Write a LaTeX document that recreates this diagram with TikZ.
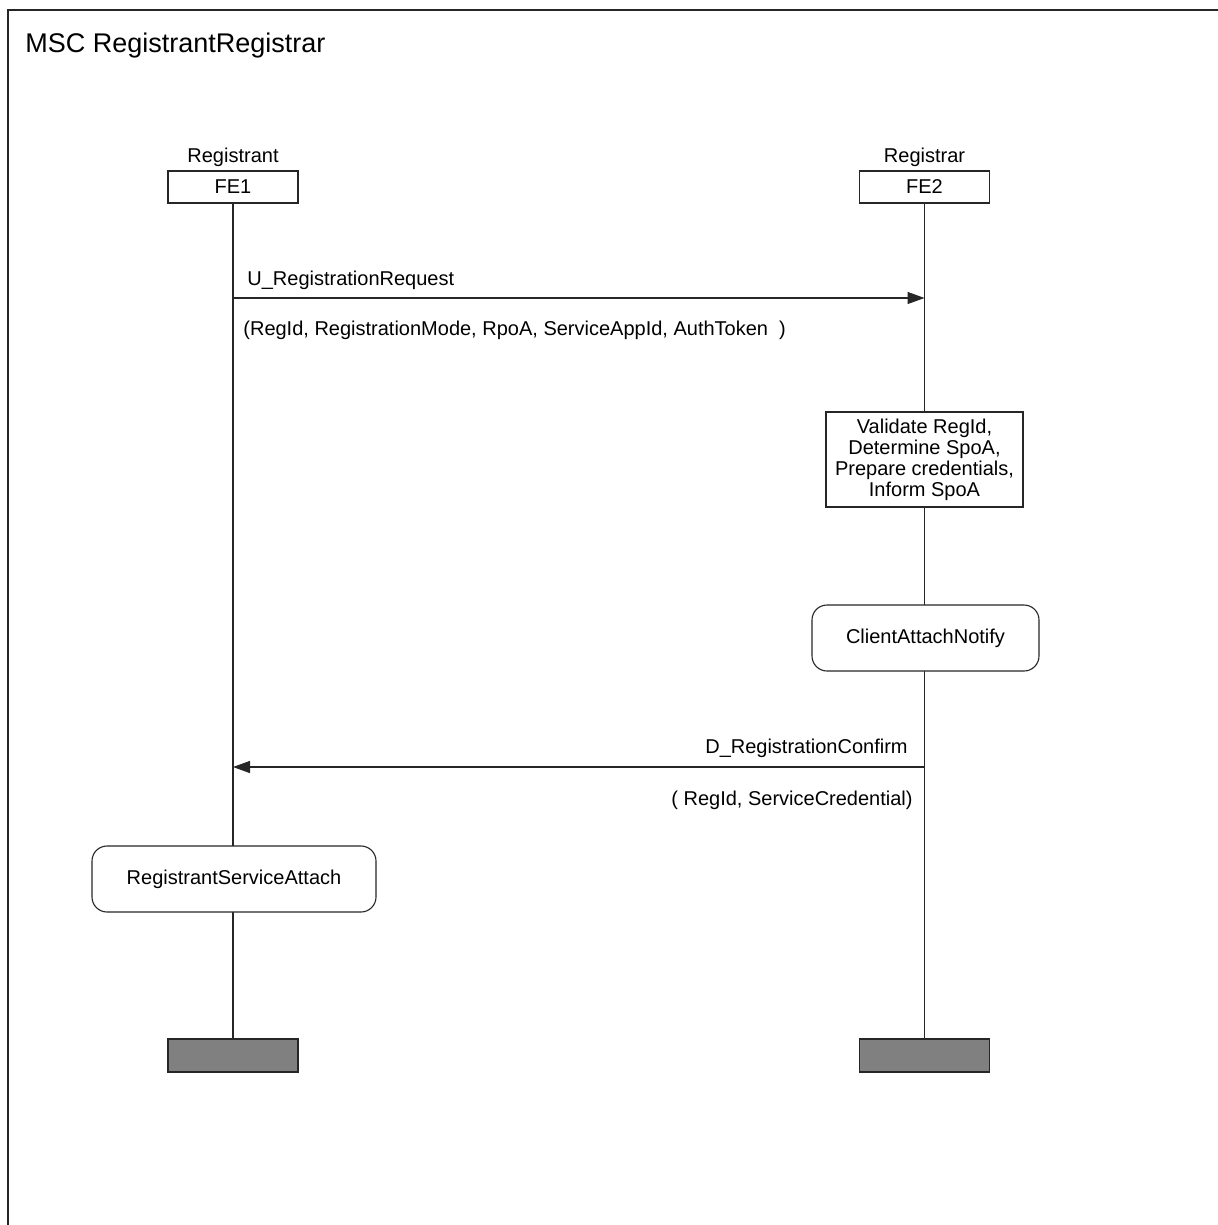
\documentclass[tikz,border=0pt]{standalone}
\usepackage{fontspec}
\setmainfont{Liberation Sans}
\usetikzlibrary{arrows.meta,backgrounds}
\begin{document}
\begin{tikzpicture}[x=0.5pt,y=-0.5pt,
  every node/.style={font=\fontsize{10}{10.5}\selectfont, inner sep=0pt},
  line/.style={draw=black!85, line width=0.55pt},
  head/.style={line, fill=white, minimum width=65pt, minimum height=16pt},
  endbox/.style={line, fill=black!50, minimum width=65pt, minimum height=16.5pt},
  action/.style={line, fill=white, minimum width=98.5pt, minimum height=47.5pt, align=center},
  refbox/.style={line, fill=white, rounded corners=7.5pt, minimum height=33pt},
  msg/.style={line, -{Triangle[length=8.5pt,width=6pt]}}]
  \useasboundingbox (0,0) rectangle (1218,1225);

  % diagram frame (open to the right and bottom)
  \draw[line, line width=0.8pt] (8,1225) -- (8,10) -- (1218,10);
  \node[anchor=west, font=\fontsize{13.5}{15}\selectfont] (title) at (25,46) {MSC RegistrantRegistrar};

  % instance heads
  \node[head] (fe1) at (233,187) {FE1};
  \node[head] (fe2) at (924.5,187) {FE2};
  \node[anchor=south, yshift=1.5pt] (n1) at (fe1.north) {Registrant};
  \node[anchor=south, yshift=1.5pt] (n2) at (fe2.north) {Registrar};

  % instance ends
  \node[endbox] (e1) at (233,1055.5) {};
  \node[endbox] (e2) at (924.5,1055.5) {};

  % action and reference boxes
  \node[action] (act) at (924.5,459.5) {Validate RegId,\\Determine SpoA,\\Prepare credentials,\\Inform SpoA};
  \node[refbox, minimum width=113.5pt] (can) at (925.5,638) {ClientAttachNotify};
  \node[refbox, minimum width=142pt] (rsa) at (234,879) {RegistrantServiceAttach};

  % lifelines
  \begin{pgfonlayer}{background}
    \draw[line] (fe1.south) -- (e1.north);
    \draw[line] (fe2.south) -- (e2.north);
  \end{pgfonlayer}

  % messages
  \coordinate (m1a) at (233,298);
  \coordinate (m1b) at (924.5,298);
  \coordinate (m2a) at (924.5,767);
  \coordinate (m2b) at (233,767);
  \draw[msg] (m1a) -- (m1b);
  \draw[msg] (m2a) -- (m2b);

  \node[anchor=west] (l1) at (247,280) {U\_RegistrationRequest};
  \node[anchor=west] (p1) at (243,330) {(RegId, RegistrationMode, RpoA, ServiceAppId, AuthToken~~)};
  \node[anchor=east] (l2) at (908,748) {D\_RegistrationConfirm};
  \node[anchor=east] (p2) at (913,800) {(~RegId, ServiceCredential)};
\end{tikzpicture}
\end{document}
